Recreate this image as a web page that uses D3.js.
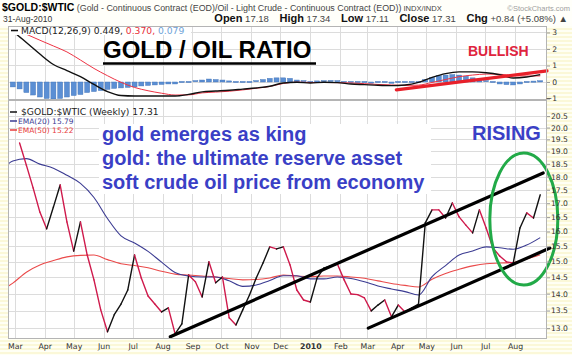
<!DOCTYPE html>
<html><head><meta charset="utf-8">
<script src="https://cdn.jsdelivr.net/npm/d3@7"></script>
<style>body{margin:0;background:#fff}svg{display:block}</style>
</head><body>
<svg id="c" width="572" height="355"></svg>
<script>
// ---------- DATA ----------
const priceStart = "2009-03-06";          // weekly closes
const ratio = [19.35,18.45,17.57,16.68,16.09,16.86,17.68,16.33,15.34,16.33,
  15.21,14.42,13.52,12.90,13.38,13.69,14.11,15.21,14.48,13.93,
  13.69,13.46,13.58,12.84,13.12,14.57,14.36,13.90,14.99,14.33,
  14.51,13.29,13.09,13.52,13.96,14.48,14.95,15.48,15.41,15.48,
  14.89,14.11,13.81,13.75,14.48,14.79,14.86,14.92,14.42,13.99,
  13.97,13.87,13.49,13.66,13.81,13.32,13.66,13.46,13.58,13.69,
  16.30,16.76,16.76,16.47,17.01,16.51,16.22,15.95,16.76,16.12,
  15.44,15.18,14.99,14.95,16.12,16.65,16.47,17.31];
const indStart = "2009-02-20";            // indicator samples: first one, then every 2 weeks from 2009-02-27
const ema20 = [18.43,18.61,18.71,18.49,18.33,18.05,17.74,17.21,16.45,15.85,15.61,
  15.33,14.98,14.65,14.54,14.51,14.51,14.39,14.22,14.26,14.40,
  14.55,14.55,14.45,14.45,14.51,14.46,14.36,14.23,14.14,14.06,
  13.96,14.52,14.87,15.21,15.34,15.48,15.45,15.40,15.54,15.79];
const ema50 = [14.18,14.32,14.66,14.89,15.03,15.15,15.20,15.21,15.06,14.93,14.87,
  14.80,14.69,14.60,14.57,14.54,14.51,14.46,14.42,14.43,14.48,
  14.57,14.54,14.52,14.54,14.54,14.51,14.47,14.39,14.31,14.25,
  14.20,14.44,14.62,14.75,14.86,14.93,14.95,14.97,15.08,15.22];
const macdLine = [3.30,3.05,2.39,1.69,1.06,0.69,0.32,-0.15,-0.58,-0.82,-0.85,
  -0.85,-0.85,-0.85,-0.75,-0.60,-0.55,-0.50,-0.43,-0.36,-0.26,
  -0.06,-0.02,-0.06,-0.02,-0.04,-0.12,-0.16,-0.20,-0.22,-0.18,
  -0.02,0.28,0.51,0.61,0.61,0.56,0.44,0.24,0.30,0.449];
const signalLine = [3.45,3.25,2.89,2.53,2.18,1.82,1.33,0.82,0.38,-0.02,-0.33,
  -0.53,-0.68,-0.79,-0.78,-0.66,-0.61,-0.56,-0.48,-0.38,-0.27,
  -0.09,-0.01,-0.03,-0.03,-0.04,-0.06,-0.10,-0.15,-0.18,-0.21,
  -0.19,-0.03,0.15,0.32,0.42,0.48,0.47,0.39,0.36,0.370];
const histStart = "2009-02-27";           // weekly histogram
const histogram = [-0.30,-0.42,-0.64,-0.79,-0.91,-1.00,-1.03,-1.00,-0.91,-0.82,
  -0.76,-0.64,-0.58,-0.52,-0.45,-0.39,-0.36,-0.33,-0.30,-0.24,
  -0.21,-0.18,-0.15,-0.12,-0.12,-0.06,-0.03,0.05,0.12,0.18,
  0.15,0.12,0.03,-0.03,-0.05,-0.03,0.05,0.15,0.22,0.25,
  0.25,0.22,0.12,0.05,-0.03,0.03,0.05,0.06,0.05,0.00,
  -0.05,-0.06,-0.07,-0.08,-0.07,-0.06,-0.08,-0.07,-0.06,-0.05,
  -0.04,0.15,0.28,0.38,0.42,0.45,0.42,0.35,0.25,0.15,
  0.05,-0.05,-0.12,-0.16,-0.18,-0.12,-0.05,0.02,0.079];
const monthTicks = ["2009-03-01","2009-04-01","2009-05-01","2009-06-01","2009-07-01","2009-08-01",
  "2009-09-01","2009-10-01","2009-11-01","2009-12-01","2010-01-01","2010-02-01","2010-03-01",
  "2010-04-01","2010-05-01","2010-06-01","2010-07-01","2010-08-01"];
const monthLabels = ["Mar","Apr","May","Jun","Jul","Aug","Sep","Oct","Nov","Dec","2010",
  "Feb","Mar","Apr","May","Jun","Jul","Aug"];
const priceTicks = [13.0,13.5,14.0,14.5,15.0,15.5,16.0,16.5,17.0,17.5,18.0,18.5,19.0,19.5,20.0,20.5];
const macdTicks = [-1,0,1,2,3];
const upperChannel = [["2009-08-09",12.76],["2010-08-30",18.14]];
const lowerChannel = [["2010-03-02",13.0],["2010-09-06",15.44]];
const macdTrend = [["2010-03-31",-0.48],["2010-09-03",0.67]];
const circleCenter = ["2010-08-10",16.43];
const quote = [["Open","17.18"],["High","17.34"],["Low","17.11"],["Close","17.31"],["Chg","+0.84 (+5.08%) \u25B2"]];

// ---------- LAYOUT ----------
const W=572,H=355,L=8,R=547,mTop=26,mBot=99,pTop=100,pBot=339;
const parse=d3.timeParse("%Y-%m-%d");
const svg=d3.select("#c");
const SANS="Liberation Sans, Arial, sans-serif", DV="DejaVu Sans, Verdana, sans-serif";

const defs=svg.append("defs");
const pat=defs.append("pattern").attr("id","st").attr("width",4).attr("height",4).attr("patternUnits","userSpaceOnUse");
pat.append("rect").attr("width",4).attr("height",4).attr("fill","#fffff4");
pat.append("rect").attr("width",4).attr("height",2).attr("fill","#fbf8d8");
defs.append("clipPath").attr("id","cm").append("rect").attr("x",L).attr("y",mTop).attr("width",R-L).attr("height",mBot-mTop);
defs.append("clipPath").attr("id","cp").append("rect").attr("x",L).attr("y",pTop).attr("width",R-L).attr("height",pBot-pTop);

svg.append("rect").attr("width",W).attr("height",H).attr("fill","url(#st)");
svg.append("rect").attr("width",W).attr("height",mTop).attr("fill","#fffffa");
svg.append("rect").attr("x",L).attr("y",mTop).attr("width",R-L).attr("height",mBot-mTop).attr("fill","#fff");
svg.append("rect").attr("x",L).attr("y",pTop).attr("width",R-L).attr("height",pBot-pTop).attr("fill","#fff");

const x=d3.scaleTime().domain([parse("2009-02-22"),parse("2010-09-03")]).range([L,R]);
const y=d3.scaleLog().domain([12.70,21.22]).range([pBot,pTop]);
const ym=d3.scaleLinear().domain([-1.03,3.39]).range([mBot,mTop]);

const priceDates=ratio.map((_,i)=>d3.timeWeek.offset(parse(priceStart),i));
const indDates=ema20.map((_,k)=>k===0?parse(indStart):d3.timeWeek.offset(parse("2009-02-27"),2*(k-1)));
const histDates=histogram.map((_,i)=>d3.timeWeek.offset(parse(histStart),i));
const mDates=monthTicks.map(parse);

// grids
const grid=svg.append("g").attr("stroke","#dcdcdc").attr("stroke-width",1);
mDates.forEach(d=>{
  const xx=Math.round(x(d))+0.5;
  grid.append("line").attr("x1",xx).attr("x2",xx).attr("y1",mTop).attr("y2",mBot);
  grid.append("line").attr("x1",xx).attr("x2",xx).attr("y1",pTop).attr("y2",pBot);
});
priceTicks.forEach(v=>{const yy=Math.round(y(v))+0.5;grid.append("line").attr("x1",L).attr("x2",R).attr("y1",yy).attr("y2",yy);});
macdTicks.forEach(v=>{const yy=Math.round(ym(v))+0.5;grid.append("line").attr("x1",L).attr("x2",R).attr("y1",yy).attr("y2",yy);});

// ---------- MACD PANEL ----------
const gm=svg.append("g").attr("clip-path","url(#cm)");
gm.selectAll("rect.h").data(histogram).join("rect").attr("class","h")
  .attr("x",(d,i)=>x(histDates[i])-2.5).attr("width",5)
  .attr("y",d=>Math.min(ym(0),ym(d))-(Math.abs(ym(d)-ym(0))<1.2?0.6:0))
  .attr("height",d=>Math.max(1.2,Math.abs(ym(d)-ym(0))))
  .attr("fill","#5b8fd4").attr("stroke","#3d6fb5").attr("stroke-width",0.4);
const lm=d3.line().x((d,i)=>x(indDates[i])).y(d=>ym(d)).curve(d3.curveMonotoneX);
gm.append("path").attr("d",lm(signalLine)).attr("fill","none").attr("stroke","#ee3344").attr("stroke-width",1);
gm.append("path").attr("d",lm(macdLine)).attr("fill","none").attr("stroke","#111").attr("stroke-width",1.4);
const lseg=d3.line().x(d=>x(parse(d[0]))).y(d=>ym(d[1]));
svg.append("path").attr("d",lseg(macdTrend)).attr("stroke","#e8202a").attr("stroke-width",3.2).attr("fill","none").attr("stroke-linecap","round");

// ---------- MAIN PANEL ----------
const gp=svg.append("g").attr("clip-path","url(#cp)");
const le=d3.line().x((d,i)=>x(indDates[i])).y(d=>y(d)).curve(d3.curveMonotoneX);
gp.append("path").attr("d",le(ema50)).attr("fill","none").attr("stroke","#ea4a4a").attr("stroke-width",1.1);
gp.append("path").attr("d",le(ema20)).attr("fill","none").attr("stroke","#3b3b92").attr("stroke-width",1.1);
for(let i=0;i<ratio.length-1;i++){
  const up=ratio[i+1]>ratio[i];
  gp.append("line").attr("x1",x(priceDates[i])).attr("y1",y(ratio[i]))
    .attr("x2",x(priceDates[i+1])).attr("y2",y(ratio[i+1]))
    .attr("stroke",up?"#111":"#cf1a4c").attr("stroke-width",1.4).attr("stroke-linecap","round");
}
const lp=d3.line().x(d=>x(parse(d[0]))).y(d=>y(d[1]));
[upperChannel,lowerChannel].forEach(c=>svg.append("path").attr("d",lp(c)).attr("stroke","#000").attr("stroke-width",3.2).attr("fill","none").attr("stroke-linecap","round"));
svg.append("ellipse").attr("cx",x(parse(circleCenter[0]))).attr("cy",y(circleCenter[1])).attr("rx",34).attr("ry",66)
  .attr("fill","none").attr("stroke","#22aa48").attr("stroke-width",3);

// borders
svg.append("rect").attr("x",L+0.5).attr("y",mTop+0.5).attr("width",R-L-1).attr("height",mBot-mTop).attr("fill","none").attr("stroke","#b4b4b4");
svg.append("rect").attr("x",L+0.5).attr("y",pTop+0.5).attr("width",R-L-1).attr("height",pBot-pTop-1).attr("fill","none").attr("stroke","#b4b4b4");

// axes
const ay=svg.append("g").attr("transform",`translate(${R},0)`)
  .call(d3.axisRight(y).tickValues(priceTicks).tickFormat(d3.format(".1f")).tickSize(3).tickPadding(1));
ay.select(".domain").remove();
ay.selectAll("line").attr("stroke","#999");
ay.selectAll("text").attr("font-family",DV).attr("font-size",7.6).attr("fill","#333");
const aym=svg.append("g").attr("transform",`translate(${R},0)`)
  .call(d3.axisRight(ym).tickValues(macdTicks).tickFormat(d3.format("d")).tickSize(3).tickPadding(1));
aym.select(".domain").remove();
aym.selectAll("line").attr("stroke","#999");
aym.selectAll("text").attr("font-family",DV).attr("font-size",7.6).attr("fill","#333").attr("text-anchor","end").attr("x",10);
const ax=svg.append("g").attr("transform",`translate(0,${pBot})`)
  .call(d3.axisBottom(x).tickValues(mDates).tickFormat((d,i)=>monthLabels[i]).tickSize(0).tickPadding(4));
ax.select(".domain").remove();
ax.selectAll("text").attr("font-family",DV).attr("font-size",7.8).attr("fill","#333")
  .attr("font-weight",(d,i)=>monthLabels[i]==="2010"?"bold":"normal");

// ---------- TEXT ----------
const t1=svg.append("text").attr("x",2).attr("y",11).attr("font-family",SANS);
t1.append("tspan").text("$GOLD:$WTIC").attr("font-weight","bold").attr("font-size",10.5).attr("fill","#000");
t1.append("tspan").text(" (Gold - Continuous Contract (EOD)/Oil - Light Crude - Continuous Contract (EOD))").attr("font-size",8.9).attr("fill","#444");
t1.append("tspan").text("  INDX/INDX").attr("font-size",7.6).attr("fill","#444");
svg.append("text").attr("x",570).attr("y",11).attr("text-anchor","end").attr("font-family",SANS).attr("font-size",7.5).attr("fill","#a0a0a0").text("\u00A9StockCharts.com");
svg.append("text").attr("x",3).attr("y",22).attr("font-family",SANS).attr("font-size",8.5).attr("fill","#333").text("31-Aug-2010");
const t2=svg.append("text").attr("x",568).attr("y",22).attr("text-anchor","end").attr("font-family",SANS);
quote.forEach((q,i)=>{
  t2.append("tspan").text(q[0]).attr("font-weight","bold").attr("font-size",11).attr("fill","#111").attr("dx",i>0?8:0);
  t2.append("tspan").text(" "+q[1]+(i<quote.length-1?"  ":"")).attr("font-size",9.5).attr("fill","#444");
});

// MACD legend
svg.append("rect").attr("x",9).attr("y",27).attr("width",182).attr("height",8).attr("fill","#fff");
svg.append("line").attr("x1",11).attr("x2",18).attr("y1",30.5).attr("y2",30.5).attr("stroke","#111").attr("stroke-width",1.6);
const tm=svg.append("text").attr("x",21).attr("y",33.5).attr("font-family",DV).attr("font-size",9.2);
tm.append("tspan").text("MACD(12,26,9) "+macdLine[macdLine.length-1].toFixed(3)+", ").attr("fill","#222");
tm.append("tspan").text(signalLine[signalLine.length-1].toFixed(3)+", ").attr("fill","#e8303a");
tm.append("tspan").text(histogram[histogram.length-1].toFixed(3)).attr("fill","#6ea2d8");

// main legend
const lg=[["$GOLD:$WTIC (Weekly) "+ratio[ratio.length-1].toFixed(2),"#111","#222",9.2,115],
          ["EMA(20) "+ema20[ema20.length-1].toFixed(2),"#3b3b92","#3b3b92",7.5,124],
          ["EMA(50) "+ema50[ema50.length-1].toFixed(2),"#e83a3a","#e83a3a",7.5,133]];
lg.forEach(r=>{
  svg.append("line").attr("x1",10).attr("x2",17).attr("y1",r[4]-3).attr("y2",r[4]-3).attr("stroke",r[1]).attr("stroke-width",1.5);
  svg.append("text").attr("x",r[3]>8?21:18).attr("y",r[4]).attr("font-family",DV).attr("font-size",r[3]).attr("fill",r[2]).text(r[0]);
});

// annotations
svg.append("text").attr("x",103).attr("y",58).attr("font-family",SANS).attr("font-weight","bold").attr("font-size",24).attr("fill","#000").text("GOLD / OIL RATIO");
svg.append("line").attr("x1",103).attr("x2",316).attr("y1",63.5).attr("y2",63.5).attr("stroke","#000").attr("stroke-width",2.6);
svg.append("text").attr("x",468).attr("y",56).attr("font-family",SANS).attr("font-weight","bold").attr("font-size",14).attr("fill","#e0243e").text("BULLISH");
svg.append("text").attr("x",472).attr("y",140).attr("font-family",SANS).attr("font-weight","bold").attr("font-size",20).attr("fill","#3a3fc6").text("RISING");
svg.append("rect").attr("x",99).attr("y",124).attr("width",332).attr("height",70).attr("fill","#fff");
["gold emerges as king","gold: the ultimate reserve asset","soft crude oil price from economy"].forEach((s,i)=>
  svg.append("text").attr("x",102).attr("y",141+24*i).attr("font-family",SANS).attr("font-weight","bold").attr("font-size",20).attr("fill","#3a3fc6").text(s));
</script>
</body></html>
